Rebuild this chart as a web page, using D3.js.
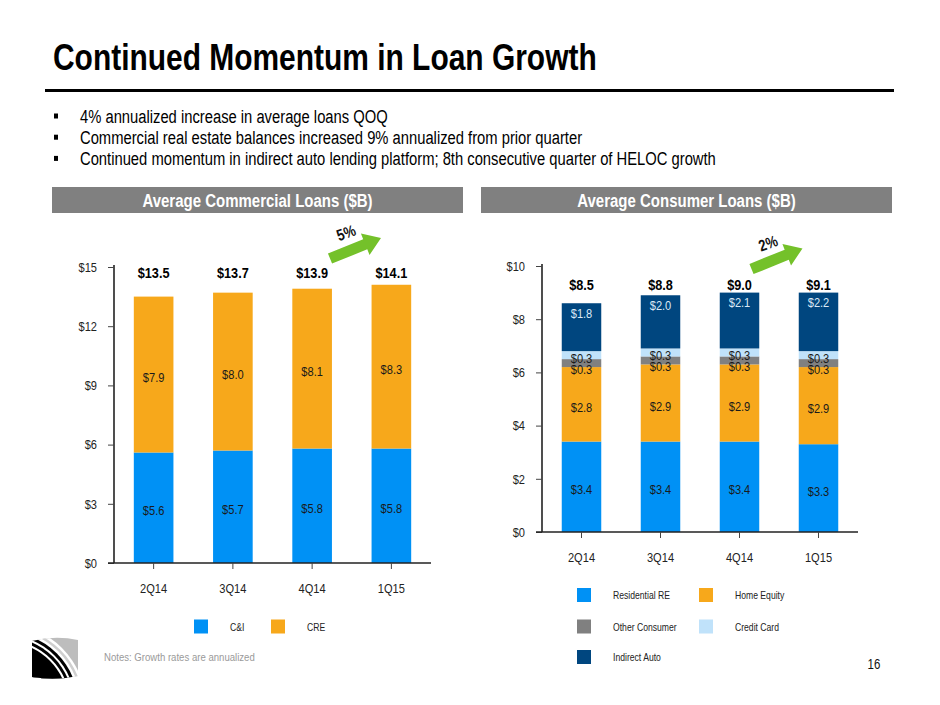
<!DOCTYPE html>
<html>
<head>
<meta charset="utf-8">
<script src="https://cdn.jsdelivr.net/npm/d3@7/dist/d3.min.js"></script>
<style>
  html, body { margin: 0; padding: 0; background: #fff; }
  svg { display: block; }
</style>
</head>
<body>
<div id="slide"></div>
<script>
// no narrow face installed: use Arial-metric Liberation Sans and squeeze it to ~82%
const FONT = '"Liberation Sans", Arial, sans-serif';
const NARROW = 0.82;

// ---- data ----
const quarters = ['2Q14', '3Q14', '4Q14', '1Q15'];

const commercialSeries = ['C&I', 'CRE'];
const ciValues  = [5.6, 5.7, 5.8, 5.8];
const creValues = [7.9, 8.0, 8.1, 8.3];
const commercialTotals = [13.5, 13.7, 13.9, 14.1];
const commercialTicks = [0, 3, 6, 9, 12, 15];
const commercialGrowth = '5%';

const consumerSeries = ['Residential RE', 'Home Equity', 'Other Consumer', 'Credit Card', 'Indirect Auto'];
const residentialValues   = [3.4, 3.4, 3.4, 3.3];
const homeEquityValues    = [2.8, 2.9, 2.9, 2.9];
const otherConsumerValues = [0.3, 0.3, 0.3, 0.3];
const creditCardValues    = [0.3, 0.3, 0.3, 0.3];
const indirectAutoValues  = [1.8, 2.0, 2.1, 2.2];
const consumerTotals = [8.5, 8.8, 9.0, 9.1];
const consumerTicks = [0, 2, 4, 6, 8, 10];
const consumerGrowth = '2%';

const bullets = [
  '4% annualized increase in average loans QOQ',
  'Commercial real estate balances increased 9% annualized from prior quarter',
  'Continued momentum in indirect auto lending platform; 8th consecutive quarter of HELOC growth'
];

const W = 940, H = 705;
const BLUE = '#0091f5', ORANGE = '#f7a81b', GREY = '#808080', LIGHT = '#c0e2fa', NAVY = '#00467f';
const GREEN = '#74c12a';

const svg = d3.select('#slide').append('svg')
  .attr('width', W).attr('height', H)
  .style('font-family', FONT);

// ---- title + rule + bullets ----
svg.append('text')
  .attr('x', 53).attr('y', 70)
  .attr('font-size', 36.5).attr('font-weight', 'bold').attr('fill', '#000')
  .text('Continued Momentum in Loan Growth');

svg.append('line')
  .attr('x1', 45).attr('x2', 894).attr('y1', 90.5).attr('y2', 90.5)
  .attr('stroke', '#000').attr('stroke-width', 3);

bullets.forEach((b, i) => {
  const cy = 116 + i * 21.2;
  svg.append('rect').attr('x', 54).attr('y', cy - 2.5).attr('width', 4).attr('height', 5).attr('fill', '#000');
  svg.append('text').attr('x', 80).attr('y', cy + 6.5)
    .attr('font-size', 18).attr('fill', '#000').text(b);
});

// ---- section headers ----
const headers = [
  { x: 52,  w: 411, label: 'Average Commercial Loans ($B)' },
  { x: 481, w: 411, label: 'Average Consumer Loans ($B)' }
];
headers.forEach(h => {
  svg.append('rect').attr('x', h.x).attr('y', 187).attr('width', h.w).attr('height', 26).attr('fill', '#808080');
  svg.append('text').attr('x', h.x + h.w / 2).attr('y', 206.5)
    .attr('text-anchor', 'middle').attr('font-size', 18.3).attr('font-weight', 'bold')
    .attr('fill', '#fff').text(h.label);
});

// ---- stacked bar chart ----
function drawChart(opt) {
  const g = svg.append('g');
  const x = d3.scaleBand().domain(quarters).range([opt.x0, opt.x1]).paddingInner(0.5).paddingOuter(0.25);
  const y = d3.scaleLinear().domain([0, d3.max(opt.ticks)]).range([opt.y0, opt.y1]);

  const rows = quarters.map((q, i) => {
    const r = { quarter: q };
    opt.series.forEach((s, k) => { r[s] = opt.values[k][i]; });
    return r;
  });
  const stacked = d3.stack().keys(opt.series)(rows);

  const layers = g.selectAll('g.layer').data(stacked).join('g')
    .attr('class', 'layer')
    .attr('fill', d => opt.colors[d.index]);

  layers.selectAll('rect').data(d => d).join('rect')
    .attr('x', d => x(d.data.quarter))
    .attr('width', x.bandwidth())
    .attr('y', d => y(d[1]))
    .attr('height', d => y(d[0]) - y(d[1]));

  // segment labels
  stacked.forEach(layer => {
    const mode = opt.labelMode[layer.index];
    g.selectAll(null).data(layer).join('text')
      .attr('x', d => x(d.data.quarter) + x.bandwidth() / 2)
      .attr('y', d => {
        let cy;
        if (mode.type === 'top') cy = y(d[1]) + mode.dy;
        else cy = (y(d[0]) + y(d[1])) / 2 + mode.dy;
        return cy + 13 * 0.36;
      })
      .attr('text-anchor', 'middle')
      .attr('font-size', 13.5)
      .attr('fill', mode.color || '#1a1a1a')
      .text(d => '$' + d3.format('.1f')(d[1] - d[0]));
  });

  // totals
  g.selectAll(null).data(opt.totals).join('text')
    .attr('x', (d, i) => x(quarters[i]) + x.bandwidth() / 2)
    .attr('y', opt.totalY + 6)
    .attr('text-anchor', 'middle')
    .attr('font-size', 15.5).attr('font-weight', 'bold').attr('fill', '#000')
    .text(d => '$' + d3.format('.1f')(d));

  // axes
  const yAxis = g.append('g')
    .attr('transform', `translate(${opt.x0},0)`)
    .call(d3.axisLeft(y).tickValues(opt.ticks).tickSize(6).tickPadding(11).tickFormat(d => '$' + d));
  const xAxis = g.append('g')
    .attr('transform', `translate(0,${opt.y0})`)
    .call(d3.axisBottom(x).tickSize(6).tickPadding(14));
  xAxis.select('.domain').attr('d', `M${opt.x0 - 6},0H${opt.x1}`);
  yAxis.select('.domain').attr('d', `M0,${opt.y1 - 2}V${opt.y0}`);
  [xAxis, yAxis].forEach(a => {
    a.attr('font-family', FONT).attr('font-size', 13.5);
    a.select('.domain').attr('stroke', '#222').attr('stroke-width', 1.6);
    a.selectAll('.tick line').attr('stroke', '#444').attr('stroke-width', 1);
    a.selectAll('.tick text').attr('fill', '#222');
  });

  // growth arrow
  const arrow = g.append('g')
    .attr('transform', `translate(${opt.arrow[0]},${opt.arrow[1]}) rotate(-22)`);
  arrow.append('path')
    .attr('d', 'M0,-5.5 L38,-5.5 L38,-11.5 L55,0 L38,11.5 L38,5.5 L0,5.5 Z')
    .attr('fill', GREEN);
  g.append('text')
    .attr('transform', `translate(${opt.growthPos[0]},${opt.growthPos[1]}) rotate(-20)`)
    .attr('text-anchor', 'middle')
    .attr('font-size', 16).attr('font-weight', 'bold').attr('fill', '#111')
    .text(opt.growth);

  // legend
  opt.series.forEach((s, k) => {
    const p = opt.legendPos[k];
    g.append('rect').attr('x', p[0]).attr('y', p[1] - 7).attr('width', 14).attr('height', 14)
      .attr('fill', opt.colors[k]);
    g.append('text').attr('x', p[0] + 36).attr('y', p[1] + 4)
      .attr('font-size', 10.5).attr('fill', '#222').text(s);
  });
}

drawChart({
  x0: 114, x1: 431, y0: 563, y1: 267,
  ticks: commercialTicks,
  series: commercialSeries,
  values: [ciValues, creValues],
  totals: commercialTotals,
  totalY: 272,
  colors: [BLUE, ORANGE],
  labelMode: [{ type: 'mid', dy: 3 }, { type: 'mid', dy: 2.5 }],
  arrow: [330, 258.5], growth: commercialGrowth, growthPos: [348, 238],
  legendPos: [[194, 626.5], [271, 626.5]]
});

drawChart({
  x0: 542, x1: 858, y0: 532, y1: 266,
  ticks: consumerTicks,
  series: consumerSeries,
  values: [residentialValues, homeEquityValues, otherConsumerValues, creditCardValues, indirectAutoValues],
  totals: consumerTotals,
  totalY: 284,
  colors: [BLUE, ORANGE, GREY, LIGHT, NAVY],
  labelMode: [
    { type: 'mid', dy: 3 }, { type: 'mid', dy: 3 },
    { type: 'mid', dy: 6 }, { type: 'mid', dy: 3 },
    { type: 'top', dy: 10, color: '#dbe9f6' }
  ],
  arrow: [751.5, 269], growth: consumerGrowth, growthPos: [770, 248.5],
  legendPos: [[577, 595], [699, 595], [577, 626.5], [699, 626.5], [577, 657]]
});

// ---- notes, page number ----
svg.append('text').attr('x', 104).attr('y', 661)
  .attr('font-size', 11.7).attr('fill', '#9a9a9a').text('Notes: Growth rates are annualized');
svg.append('text').attr('x', 874).attr('y', 669).attr('text-anchor', 'middle')
  .attr('font-size', 14).attr('fill', '#111').text('16');

// ---- logo ----
const defs = svg.append('defs');
defs.append('clipPath').attr('id', 'logoClip').append('path')
  .attr('d', 'M32,641 Q55,635 78,640 L78,676 Q55,681 32,677 Z');
const logo = svg.append('g').attr('clip-path', 'url(#logoClip)');
logo.append('rect').attr('x', 30).attr('y', 630).attr('width', 52).attr('height', 55).attr('fill', '#bdbdbd');
const rings = [
  [82, '#fff'], [79.5, '#cfcfcf'], [77, '#fff'], [74.5, '#000'],
  [71.5, '#fff'], [69.5, '#000'], [66.5, '#fff'], [64.5, '#000']
];
rings.forEach(([r, c]) => {
  logo.append('circle').attr('cx', 4).attr('cy', 706).attr('r', r).attr('fill', c);
});

// squeeze every text to narrow proportions
svg.selectAll('text').each(function () {
  const w = this.getComputedTextLength();
  if (w > 0) {
    d3.select(this)
      .attr('textLength', (w * NARROW).toFixed(2))
      .attr('lengthAdjust', 'spacingAndGlyphs');
  }
});
</script>
</body>
</html>
